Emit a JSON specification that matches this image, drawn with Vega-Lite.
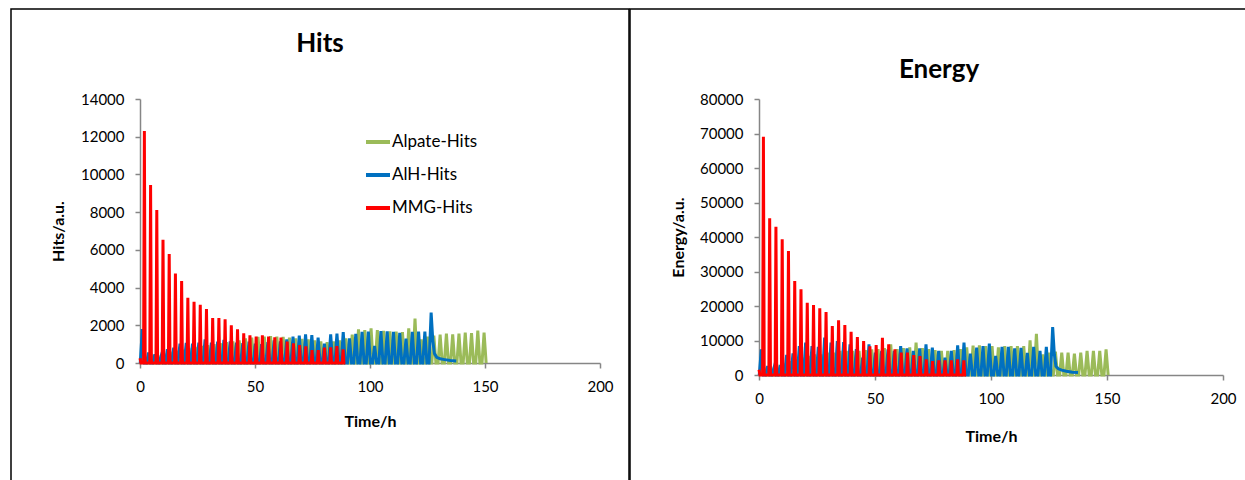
{
"$schema":"https://vega.github.io/schema/vega-lite/v6.json",
"padding":{"left":10,"top":8,"right":0,"bottom":0},
"spacing":-2,
"config":{"view":{"stroke":"#000000","strokeWidth":1.5},"font":"Lato",
"axis":{"grid":false,"domainColor":"#868686","domainWidth":1.5,"tickColor":"#868686","tickWidth":1.5,"tickSize":5,"labelFont":"Lato","labelFontSize":15,"labelColor":"#000000","titleFont":"Lato","titleFontSize":16,"titleFontWeight":"bold","titleColor":"#000000","labelFlush":false,"format":"d"},
"legend":{"labelFont":"Lato","labelFontSize":17,"labelColor":"#000000"}},
"datasets":{"d":[
{"s":"Alpate-Hits","t":1.28,"h":0,"e":0},{"s":"Alpate-Hits","t":2.18,"h":300,"e":2000},{"s":"Alpate-Hits","t":3.08,"h":0,"e":0},
{"s":"Alpate-Hits","t":4.01,"h":0,"e":0},{"s":"Alpate-Hits","t":4.91,"h":400,"e":2500},{"s":"Alpate-Hits","t":5.81,"h":0,"e":0},
{"s":"Alpate-Hits","t":6.74,"h":0,"e":0},{"s":"Alpate-Hits","t":7.64,"h":450,"e":3000},{"s":"Alpate-Hits","t":8.54,"h":0,"e":0},
{"s":"Alpate-Hits","t":9.47,"h":0,"e":0},{"s":"Alpate-Hits","t":10.37,"h":500,"e":3500},{"s":"Alpate-Hits","t":11.27,"h":0,"e":0},
{"s":"Alpate-Hits","t":12.2,"h":0,"e":0},{"s":"Alpate-Hits","t":13.1,"h":600,"e":4000},{"s":"Alpate-Hits","t":14.0,"h":0,"e":0},
{"s":"Alpate-Hits","t":14.93,"h":0,"e":0},{"s":"Alpate-Hits","t":15.83,"h":650,"e":4500},{"s":"Alpate-Hits","t":16.73,"h":0,"e":0},
{"s":"Alpate-Hits","t":17.66,"h":0,"e":0},{"s":"Alpate-Hits","t":18.56,"h":700,"e":5000},{"s":"Alpate-Hits","t":19.46,"h":0,"e":0},
{"s":"Alpate-Hits","t":20.39,"h":0,"e":0},{"s":"Alpate-Hits","t":21.29,"h":800,"e":5500},{"s":"Alpate-Hits","t":22.19,"h":0,"e":0},
{"s":"Alpate-Hits","t":23.12,"h":0,"e":0},{"s":"Alpate-Hits","t":24.02,"h":850,"e":6000},{"s":"Alpate-Hits","t":24.92,"h":0,"e":0},
{"s":"Alpate-Hits","t":25.85,"h":0,"e":0},{"s":"Alpate-Hits","t":26.75,"h":900,"e":6000},{"s":"Alpate-Hits","t":27.65,"h":0,"e":0},
{"s":"Alpate-Hits","t":28.58,"h":0,"e":0},{"s":"Alpate-Hits","t":29.48,"h":950,"e":6500},{"s":"Alpate-Hits","t":30.38,"h":0,"e":0},
{"s":"Alpate-Hits","t":31.31,"h":0,"e":0},{"s":"Alpate-Hits","t":32.21,"h":1000,"e":6500},{"s":"Alpate-Hits","t":33.11,"h":0,"e":0},
{"s":"Alpate-Hits","t":34.04,"h":0,"e":0},{"s":"Alpate-Hits","t":34.94,"h":1050,"e":7000},{"s":"Alpate-Hits","t":35.84,"h":0,"e":0},
{"s":"Alpate-Hits","t":36.77,"h":0,"e":0},{"s":"Alpate-Hits","t":37.67,"h":1100,"e":7000},{"s":"Alpate-Hits","t":38.57,"h":0,"e":0},
{"s":"Alpate-Hits","t":39.5,"h":0,"e":0},{"s":"Alpate-Hits","t":40.4,"h":1150,"e":7000},{"s":"Alpate-Hits","t":41.3,"h":0,"e":0},
{"s":"Alpate-Hits","t":42.23,"h":0,"e":0},{"s":"Alpate-Hits","t":43.13,"h":1200,"e":7000},{"s":"Alpate-Hits","t":44.03,"h":0,"e":0},
{"s":"Alpate-Hits","t":44.96,"h":0,"e":0},{"s":"Alpate-Hits","t":45.86,"h":1300,"e":7200},{"s":"Alpate-Hits","t":46.76,"h":0,"e":0},
{"s":"Alpate-Hits","t":47.69,"h":0,"e":0},{"s":"Alpate-Hits","t":48.59,"h":1350,"e":7400},{"s":"Alpate-Hits","t":49.49,"h":0,"e":0},
{"s":"Alpate-Hits","t":50.42,"h":0,"e":0},{"s":"Alpate-Hits","t":51.32,"h":1380,"e":7500},{"s":"Alpate-Hits","t":52.22,"h":0,"e":0},
{"s":"Alpate-Hits","t":53.15,"h":0,"e":0},{"s":"Alpate-Hits","t":54.05,"h":1400,"e":7800},{"s":"Alpate-Hits","t":54.95,"h":0,"e":0},
{"s":"Alpate-Hits","t":55.88,"h":0,"e":0},{"s":"Alpate-Hits","t":56.78,"h":1420,"e":8890},{"s":"Alpate-Hits","t":57.68,"h":0,"e":0},
{"s":"Alpate-Hits","t":58.61,"h":0,"e":0},{"s":"Alpate-Hits","t":59.51,"h":1400,"e":7500},{"s":"Alpate-Hits","t":60.41,"h":0,"e":0},
{"s":"Alpate-Hits","t":61.34,"h":0,"e":0},{"s":"Alpate-Hits","t":62.24,"h":1380,"e":7800},{"s":"Alpate-Hits","t":63.14,"h":0,"e":0},
{"s":"Alpate-Hits","t":64.07,"h":0,"e":0},{"s":"Alpate-Hits","t":64.97,"h":1350,"e":8000},{"s":"Alpate-Hits","t":65.87,"h":0,"e":0},
{"s":"Alpate-Hits","t":66.8,"h":0,"e":0},{"s":"Alpate-Hits","t":67.7,"h":1300,"e":9370},{"s":"Alpate-Hits","t":68.6,"h":0,"e":0},
{"s":"Alpate-Hits","t":69.53,"h":0,"e":0},{"s":"Alpate-Hits","t":70.43,"h":1280,"e":7800},{"s":"Alpate-Hits","t":71.33,"h":0,"e":0},
{"s":"Alpate-Hits","t":72.26,"h":0,"e":0},{"s":"Alpate-Hits","t":73.16,"h":1250,"e":7500},{"s":"Alpate-Hits","t":74.06,"h":0,"e":0},
{"s":"Alpate-Hits","t":74.99,"h":0,"e":0},{"s":"Alpate-Hits","t":75.89,"h":1200,"e":7200},{"s":"Alpate-Hits","t":76.79,"h":0,"e":0},
{"s":"Alpate-Hits","t":77.72,"h":0,"e":0},{"s":"Alpate-Hits","t":78.62,"h":1150,"e":7000},{"s":"Alpate-Hits","t":79.52,"h":0,"e":0},
{"s":"Alpate-Hits","t":80.45,"h":0,"e":0},{"s":"Alpate-Hits","t":81.35,"h":1100,"e":7000},{"s":"Alpate-Hits","t":82.25,"h":0,"e":0},
{"s":"Alpate-Hits","t":83.18,"h":0,"e":0},{"s":"Alpate-Hits","t":84.08,"h":1150,"e":7200},{"s":"Alpate-Hits","t":84.98,"h":0,"e":0},
{"s":"Alpate-Hits","t":85.91,"h":0,"e":0},{"s":"Alpate-Hits","t":86.81,"h":1200,"e":7500},{"s":"Alpate-Hits","t":87.71,"h":0,"e":0},
{"s":"Alpate-Hits","t":88.64,"h":0,"e":0},{"s":"Alpate-Hits","t":89.54,"h":1300,"e":8000},{"s":"Alpate-Hits","t":90.44,"h":0,"e":0},
{"s":"Alpate-Hits","t":91.37,"h":0,"e":0},{"s":"Alpate-Hits","t":92.27,"h":1500,"e":8500},{"s":"Alpate-Hits","t":93.17,"h":0,"e":0},
{"s":"Alpate-Hits","t":94.1,"h":0,"e":0},{"s":"Alpate-Hits","t":95.0,"h":1785,"e":8600},{"s":"Alpate-Hits","t":95.9,"h":0,"e":0},
{"s":"Alpate-Hits","t":96.83,"h":0,"e":0},{"s":"Alpate-Hits","t":97.73,"h":1750,"e":8400},{"s":"Alpate-Hits","t":98.63,"h":0,"e":0},
{"s":"Alpate-Hits","t":99.56,"h":0,"e":0},{"s":"Alpate-Hits","t":100.46,"h":1838,"e":8400},{"s":"Alpate-Hits","t":101.36,"h":0,"e":0},
{"s":"Alpate-Hits","t":102.29,"h":0,"e":0},{"s":"Alpate-Hits","t":103.19,"h":1750,"e":8000},{"s":"Alpate-Hits","t":104.09,"h":0,"e":0},
{"s":"Alpate-Hits","t":105.02,"h":0,"e":0},{"s":"Alpate-Hits","t":105.92,"h":1700,"e":8400},{"s":"Alpate-Hits","t":106.82,"h":0,"e":0},
{"s":"Alpate-Hits","t":107.75,"h":0,"e":0},{"s":"Alpate-Hits","t":108.65,"h":1680,"e":8400},{"s":"Alpate-Hits","t":109.55,"h":0,"e":0},
{"s":"Alpate-Hits","t":110.48,"h":0,"e":0},{"s":"Alpate-Hits","t":111.38,"h":1660,"e":8400},{"s":"Alpate-Hits","t":112.28,"h":0,"e":0},
{"s":"Alpate-Hits","t":113.21,"h":0,"e":0},{"s":"Alpate-Hits","t":114.11,"h":1644,"e":8400},{"s":"Alpate-Hits","t":115.01,"h":0,"e":0},
{"s":"Alpate-Hits","t":115.94,"h":0,"e":0},{"s":"Alpate-Hits","t":116.84,"h":1838,"e":10060},{"s":"Alpate-Hits","t":117.74,"h":0,"e":0},
{"s":"Alpate-Hits","t":118.67,"h":0,"e":0},{"s":"Alpate-Hits","t":119.57,"h":2350,"e":11970},{"s":"Alpate-Hits","t":120.47,"h":0,"e":0},
{"s":"Alpate-Hits","t":121.4,"h":0,"e":0},{"s":"Alpate-Hits","t":122.3,"h":1255,"e":6000},{"s":"Alpate-Hits","t":123.2,"h":0,"e":0},
{"s":"Alpate-Hits","t":124.13,"h":0,"e":0},{"s":"Alpate-Hits","t":125.03,"h":1400,"e":6500},{"s":"Alpate-Hits","t":125.93,"h":0,"e":0},
{"s":"Alpate-Hits","t":126.86,"h":0,"e":0},{"s":"Alpate-Hits","t":127.76,"h":1450,"e":6800},{"s":"Alpate-Hits","t":128.66,"h":0,"e":0},
{"s":"Alpate-Hits","t":129.59,"h":0,"e":0},{"s":"Alpate-Hits","t":130.49,"h":1500,"e":6470},{"s":"Alpate-Hits","t":131.39,"h":0,"e":0},
{"s":"Alpate-Hits","t":132.32,"h":0,"e":0},{"s":"Alpate-Hits","t":133.22,"h":1555,"e":6470},{"s":"Alpate-Hits","t":134.12,"h":0,"e":0},
{"s":"Alpate-Hits","t":135.05,"h":0,"e":0},{"s":"Alpate-Hits","t":135.95,"h":1520,"e":6180},{"s":"Alpate-Hits","t":136.85,"h":0,"e":0},
{"s":"Alpate-Hits","t":137.78,"h":0,"e":0},{"s":"Alpate-Hits","t":138.68,"h":1555,"e":6470},{"s":"Alpate-Hits","t":139.58,"h":0,"e":0},
{"s":"Alpate-Hits","t":140.51,"h":0,"e":0},{"s":"Alpate-Hits","t":141.41,"h":1608,"e":6960},{"s":"Alpate-Hits","t":142.31,"h":0,"e":0},
{"s":"Alpate-Hits","t":143.24,"h":0,"e":0},{"s":"Alpate-Hits","t":144.14,"h":1580,"e":6960},{"s":"Alpate-Hits","t":145.04,"h":0,"e":0},
{"s":"Alpate-Hits","t":145.97,"h":0,"e":0},{"s":"Alpate-Hits","t":146.87,"h":1715,"e":6960},{"s":"Alpate-Hits","t":147.77,"h":0,"e":0},
{"s":"Alpate-Hits","t":148.7,"h":0,"e":0},{"s":"Alpate-Hits","t":149.6,"h":1608,"e":7440},{"s":"Alpate-Hits","t":150.5,"h":0,"e":0},
{"s":"AlH-Hits","t":0.1,"h":0,"e":0},{"s":"AlH-Hits","t":1.0,"h":1800,"e":7440},{"s":"AlH-Hits","t":1.9,"h":0,"e":0},
{"s":"AlH-Hits","t":2.83,"h":0,"e":0},{"s":"AlH-Hits","t":3.73,"h":550,"e":2600},{"s":"AlH-Hits","t":4.63,"h":0,"e":0},
{"s":"AlH-Hits","t":5.56,"h":0,"e":0},{"s":"AlH-Hits","t":6.46,"h":460,"e":2120},{"s":"AlH-Hits","t":7.36,"h":0,"e":0},
{"s":"AlH-Hits","t":8.29,"h":0,"e":0},{"s":"AlH-Hits","t":9.19,"h":370,"e":2900},{"s":"AlH-Hits","t":10.09,"h":0,"e":0},
{"s":"AlH-Hits","t":11.02,"h":0,"e":0},{"s":"AlH-Hits","t":11.92,"h":725,"e":5800},{"s":"AlH-Hits","t":12.82,"h":0,"e":0},
{"s":"AlH-Hits","t":13.75,"h":0,"e":0},{"s":"AlH-Hits","t":14.65,"h":813,"e":6280},{"s":"AlH-Hits","t":15.55,"h":0,"e":0},
{"s":"AlH-Hits","t":16.48,"h":0,"e":0},{"s":"AlH-Hits","t":17.38,"h":1025,"e":8400},{"s":"AlH-Hits","t":18.28,"h":0,"e":0},
{"s":"AlH-Hits","t":19.21,"h":0,"e":0},{"s":"AlH-Hits","t":20.11,"h":1060,"e":9370},{"s":"AlH-Hits","t":21.01,"h":0,"e":0},
{"s":"AlH-Hits","t":21.94,"h":0,"e":0},{"s":"AlH-Hits","t":22.84,"h":1025,"e":8400},{"s":"AlH-Hits","t":23.74,"h":0,"e":0},
{"s":"AlH-Hits","t":24.67,"h":0,"e":0},{"s":"AlH-Hits","t":25.57,"h":1078,"e":8120},{"s":"AlH-Hits","t":26.47,"h":0,"e":0},
{"s":"AlH-Hits","t":27.4,"h":0,"e":0},{"s":"AlH-Hits","t":28.3,"h":1255,"e":10820},{"s":"AlH-Hits","t":29.2,"h":0,"e":0},
{"s":"AlH-Hits","t":30.13,"h":0,"e":0},{"s":"AlH-Hits","t":31.03,"h":1078,"e":9370},{"s":"AlH-Hits","t":31.93,"h":0,"e":0},
{"s":"AlH-Hits","t":32.86,"h":0,"e":0},{"s":"AlH-Hits","t":33.76,"h":1131,"e":9855},{"s":"AlH-Hits","t":34.66,"h":0,"e":0},
{"s":"AlH-Hits","t":35.59,"h":0,"e":0},{"s":"AlH-Hits","t":36.49,"h":1220,"e":9560},{"s":"AlH-Hits","t":37.39,"h":0,"e":0},
{"s":"AlH-Hits","t":38.32,"h":0,"e":0},{"s":"AlH-Hits","t":39.22,"h":1150,"e":8890},{"s":"AlH-Hits","t":40.12,"h":0,"e":0},
{"s":"AlH-Hits","t":41.05,"h":0,"e":0},{"s":"AlH-Hits","t":41.95,"h":1078,"e":7500},{"s":"AlH-Hits","t":42.85,"h":0,"e":0},
{"s":"AlH-Hits","t":43.78,"h":0,"e":0},{"s":"AlH-Hits","t":44.68,"h":1050,"e":5020},{"s":"AlH-Hits","t":45.58,"h":0,"e":0},
{"s":"AlH-Hits","t":46.51,"h":0,"e":0},{"s":"AlH-Hits","t":47.41,"h":1131,"e":8890},{"s":"AlH-Hits","t":48.31,"h":0,"e":0},
{"s":"AlH-Hits","t":49.24,"h":0,"e":0},{"s":"AlH-Hits","t":50.14,"h":1025,"e":6470},{"s":"AlH-Hits","t":51.04,"h":0,"e":0},
{"s":"AlH-Hits","t":51.97,"h":0,"e":0},{"s":"AlH-Hits","t":52.87,"h":1000,"e":6960},{"s":"AlH-Hits","t":53.77,"h":0,"e":0},
{"s":"AlH-Hits","t":54.7,"h":0,"e":0},{"s":"AlH-Hits","t":55.6,"h":1100,"e":7440},{"s":"AlH-Hits","t":56.5,"h":0,"e":0},
{"s":"AlH-Hits","t":57.43,"h":0,"e":0},{"s":"AlH-Hits","t":58.33,"h":1200,"e":7000},{"s":"AlH-Hits","t":59.23,"h":0,"e":0},
{"s":"AlH-Hits","t":60.16,"h":0,"e":0},{"s":"AlH-Hits","t":61.06,"h":1150,"e":8400},{"s":"AlH-Hits","t":61.96,"h":0,"e":0},
{"s":"AlH-Hits","t":62.89,"h":0,"e":0},{"s":"AlH-Hits","t":63.79,"h":1255,"e":7730},{"s":"AlH-Hits","t":64.69,"h":0,"e":0},
{"s":"AlH-Hits","t":65.62,"h":0,"e":0},{"s":"AlH-Hits","t":66.52,"h":1397,"e":6960},{"s":"AlH-Hits","t":67.42,"h":0,"e":0},
{"s":"AlH-Hits","t":68.35,"h":0,"e":0},{"s":"AlH-Hits","t":69.25,"h":1450,"e":7730},{"s":"AlH-Hits","t":70.15,"h":0,"e":0},
{"s":"AlH-Hits","t":71.08,"h":0,"e":0},{"s":"AlH-Hits","t":71.98,"h":1520,"e":8890},{"s":"AlH-Hits","t":72.88,"h":0,"e":0},
{"s":"AlH-Hits","t":73.81,"h":0,"e":0},{"s":"AlH-Hits","t":74.71,"h":1480,"e":7920},{"s":"AlH-Hits","t":75.61,"h":0,"e":0},
{"s":"AlH-Hits","t":76.54,"h":0,"e":0},{"s":"AlH-Hits","t":77.44,"h":1344,"e":6960},{"s":"AlH-Hits","t":78.34,"h":0,"e":0},
{"s":"AlH-Hits","t":79.27,"h":0,"e":0},{"s":"AlH-Hits","t":80.17,"h":1025,"e":5020},{"s":"AlH-Hits","t":81.07,"h":0,"e":0},
{"s":"AlH-Hits","t":82.0,"h":0,"e":0},{"s":"AlH-Hits","t":82.9,"h":1520,"e":6960},{"s":"AlH-Hits","t":83.8,"h":0,"e":0},
{"s":"AlH-Hits","t":84.73,"h":0,"e":0},{"s":"AlH-Hits","t":85.63,"h":1555,"e":8600},{"s":"AlH-Hits","t":86.53,"h":0,"e":0},
{"s":"AlH-Hits","t":87.46,"h":0,"e":0},{"s":"AlH-Hits","t":88.36,"h":1644,"e":9370},{"s":"AlH-Hits","t":89.26,"h":0,"e":0},
{"s":"AlH-Hits","t":90.19,"h":0,"e":0},{"s":"AlH-Hits","t":91.09,"h":1308,"e":6180},{"s":"AlH-Hits","t":91.99,"h":0,"e":0},
{"s":"AlH-Hits","t":92.92,"h":0,"e":0},{"s":"AlH-Hits","t":93.82,"h":1550,"e":7920},{"s":"AlH-Hits","t":94.72,"h":0,"e":0},
{"s":"AlH-Hits","t":95.65,"h":0,"e":0},{"s":"AlH-Hits","t":96.55,"h":1650,"e":8400},{"s":"AlH-Hits","t":97.45,"h":0,"e":0},
{"s":"AlH-Hits","t":98.38,"h":0,"e":0},{"s":"AlH-Hits","t":99.28,"h":1660,"e":9080},{"s":"AlH-Hits","t":100.18,"h":0,"e":0},
{"s":"AlH-Hits","t":101.11,"h":0,"e":0},{"s":"AlH-Hits","t":102.01,"h":900,"e":5500},{"s":"AlH-Hits","t":102.91,"h":0,"e":0},
{"s":"AlH-Hits","t":103.84,"h":0,"e":0},{"s":"AlH-Hits","t":104.74,"h":1697,"e":8120},{"s":"AlH-Hits","t":105.64,"h":0,"e":0},
{"s":"AlH-Hits","t":106.57,"h":0,"e":0},{"s":"AlH-Hits","t":107.47,"h":1680,"e":8120},{"s":"AlH-Hits","t":108.37,"h":0,"e":0},
{"s":"AlH-Hits","t":109.3,"h":0,"e":0},{"s":"AlH-Hits","t":110.2,"h":1650,"e":7730},{"s":"AlH-Hits","t":111.1,"h":0,"e":0},
{"s":"AlH-Hits","t":112.03,"h":0,"e":0},{"s":"AlH-Hits","t":112.93,"h":1600,"e":7900},{"s":"AlH-Hits","t":113.83,"h":0,"e":0},
{"s":"AlH-Hits","t":114.76,"h":0,"e":0},{"s":"AlH-Hits","t":115.66,"h":1290,"e":6380},{"s":"AlH-Hits","t":116.56,"h":0,"e":0},
{"s":"AlH-Hits","t":117.49,"h":0,"e":0},{"s":"AlH-Hits","t":118.39,"h":1650,"e":8120},{"s":"AlH-Hits","t":119.29,"h":0,"e":0},
{"s":"AlH-Hits","t":120.22,"h":0,"e":0},{"s":"AlH-Hits","t":121.12,"h":1660,"e":6960},{"s":"AlH-Hits","t":122.02,"h":0,"e":0},
{"s":"AlH-Hits","t":122.95,"h":0,"e":0},{"s":"AlH-Hits","t":123.85,"h":1660,"e":8120},{"s":"AlH-Hits","t":124.75,"h":0,"e":0},
{"s":"AlH-Hits","t":125.68,"h":0,"e":0},{"s":"AlH-Hits","t":126.58,"h":2670,"e":13910},
{"s":"AlH-Hits","t":127.3,"h":1200,"e":6000},{"s":"AlH-Hits","t":128.0,"h":500,"e":2500},
{"s":"AlH-Hits","t":129.0,"h":300,"e":1800},{"s":"AlH-Hits","t":130.5,"h":220,"e":1400},
{"s":"AlH-Hits","t":132.5,"h":180,"e":1100},{"s":"AlH-Hits","t":135.0,"h":130,"e":800},
{"s":"AlH-Hits","t":137.5,"h":110,"e":700},
{"s":"MMG-Hits","t":0,"h":250,"e":1500},{"s":"MMG-Hits","t":0.4,"h":0,"e":0},
{"s":"MMG-Hits","t":1.55,"h":0,"e":0},{"s":"MMG-Hits","t":1.9,"h":12300,"e":69080},{"s":"MMG-Hits","t":2.25,"h":0,"e":0},
{"s":"MMG-Hits","t":4.25,"h":0,"e":0},{"s":"MMG-Hits","t":4.6,"h":9440,"e":45420},{"s":"MMG-Hits","t":4.95,"h":0,"e":0},
{"s":"MMG-Hits","t":6.95,"h":0,"e":0},{"s":"MMG-Hits","t":7.3,"h":8110,"e":43000},{"s":"MMG-Hits","t":7.65,"h":0,"e":0},
{"s":"MMG-Hits","t":9.65,"h":0,"e":0},{"s":"MMG-Hits","t":10.0,"h":6540,"e":39330},{"s":"MMG-Hits","t":10.35,"h":0,"e":0},
{"s":"MMG-Hits","t":12.35,"h":0,"e":0},{"s":"MMG-Hits","t":12.7,"h":5780,"e":35940},{"s":"MMG-Hits","t":13.05,"h":0,"e":0},
{"s":"MMG-Hits","t":15.05,"h":0,"e":0},{"s":"MMG-Hits","t":15.4,"h":4740,"e":27250},{"s":"MMG-Hits","t":15.75,"h":0,"e":0},
{"s":"MMG-Hits","t":17.75,"h":0,"e":0},{"s":"MMG-Hits","t":18.1,"h":4350,"e":24830},{"s":"MMG-Hits","t":18.45,"h":0,"e":0},
{"s":"MMG-Hits","t":20.45,"h":0,"e":0},{"s":"MMG-Hits","t":20.8,"h":3465,"e":20970},{"s":"MMG-Hits","t":21.15,"h":0,"e":0},
{"s":"MMG-Hits","t":23.15,"h":0,"e":0},{"s":"MMG-Hits","t":23.5,"h":3250,"e":20290},{"s":"MMG-Hits","t":23.85,"h":0,"e":0},
{"s":"MMG-Hits","t":25.85,"h":0,"e":0},{"s":"MMG-Hits","t":26.2,"h":3090,"e":19320},{"s":"MMG-Hits","t":26.55,"h":0,"e":0},
{"s":"MMG-Hits","t":28.55,"h":0,"e":0},{"s":"MMG-Hits","t":28.9,"h":2860,"e":18260},{"s":"MMG-Hits","t":29.25,"h":0,"e":0},
{"s":"MMG-Hits","t":31.25,"h":0,"e":0},{"s":"MMG-Hits","t":31.6,"h":2390,"e":14200},{"s":"MMG-Hits","t":31.95,"h":0,"e":0},
{"s":"MMG-Hits","t":33.95,"h":0,"e":0},{"s":"MMG-Hits","t":34.3,"h":2390,"e":15850},{"s":"MMG-Hits","t":34.65,"h":0,"e":0},
{"s":"MMG-Hits","t":36.65,"h":0,"e":0},{"s":"MMG-Hits","t":37.0,"h":2320,"e":14490},{"s":"MMG-Hits","t":37.35,"h":0,"e":0},
{"s":"MMG-Hits","t":39.35,"h":0,"e":0},{"s":"MMG-Hits","t":39.7,"h":2000,"e":12560},{"s":"MMG-Hits","t":40.05,"h":0,"e":0},
{"s":"MMG-Hits","t":42.05,"h":0,"e":0},{"s":"MMG-Hits","t":42.4,"h":1790,"e":11010},{"s":"MMG-Hits","t":42.75,"h":0,"e":0},
{"s":"MMG-Hits","t":44.75,"h":0,"e":0},{"s":"MMG-Hits","t":45.1,"h":1574,"e":9855},{"s":"MMG-Hits","t":45.45,"h":0,"e":0},
{"s":"MMG-Hits","t":47.45,"h":0,"e":0},{"s":"MMG-Hits","t":47.8,"h":1467,"e":8300},{"s":"MMG-Hits","t":48.15,"h":0,"e":0},
{"s":"MMG-Hits","t":50.15,"h":0,"e":0},{"s":"MMG-Hits","t":50.5,"h":1397,"e":8700},{"s":"MMG-Hits","t":50.85,"h":0,"e":0},
{"s":"MMG-Hits","t":52.85,"h":0,"e":0},{"s":"MMG-Hits","t":53.2,"h":1467,"e":10820},{"s":"MMG-Hits","t":53.55,"h":0,"e":0},
{"s":"MMG-Hits","t":55.55,"h":0,"e":0},{"s":"MMG-Hits","t":55.9,"h":1397,"e":8890},{"s":"MMG-Hits","t":56.25,"h":0,"e":0},
{"s":"MMG-Hits","t":58.25,"h":0,"e":0},{"s":"MMG-Hits","t":58.6,"h":1361,"e":7440},{"s":"MMG-Hits","t":58.95,"h":0,"e":0},
{"s":"MMG-Hits","t":60.95,"h":0,"e":0},{"s":"MMG-Hits","t":61.3,"h":1344,"e":6470},{"s":"MMG-Hits","t":61.65,"h":0,"e":0},
{"s":"MMG-Hits","t":63.65,"h":0,"e":0},{"s":"MMG-Hits","t":64.0,"h":1131,"e":6470},{"s":"MMG-Hits","t":64.35,"h":0,"e":0},
{"s":"MMG-Hits","t":66.35,"h":0,"e":0},{"s":"MMG-Hits","t":66.7,"h":1043,"e":5800},{"s":"MMG-Hits","t":67.05,"h":0,"e":0},
{"s":"MMG-Hits","t":69.05,"h":0,"e":0},{"s":"MMG-Hits","t":69.4,"h":950,"e":5510},{"s":"MMG-Hits","t":69.75,"h":0,"e":0},
{"s":"MMG-Hits","t":71.75,"h":0,"e":0},{"s":"MMG-Hits","t":72.1,"h":880,"e":4540},{"s":"MMG-Hits","t":72.45,"h":0,"e":0},
{"s":"MMG-Hits","t":74.45,"h":0,"e":0},{"s":"MMG-Hits","t":74.8,"h":690,"e":4060},{"s":"MMG-Hits","t":75.15,"h":0,"e":0},
{"s":"MMG-Hits","t":77.15,"h":0,"e":0},{"s":"MMG-Hits","t":77.5,"h":690,"e":4250},{"s":"MMG-Hits","t":77.85,"h":0,"e":0},
{"s":"MMG-Hits","t":79.85,"h":0,"e":0},{"s":"MMG-Hits","t":80.2,"h":813,"e":4250},{"s":"MMG-Hits","t":80.55,"h":0,"e":0},
{"s":"MMG-Hits","t":82.55,"h":0,"e":0},{"s":"MMG-Hits","t":82.9,"h":830,"e":4250},{"s":"MMG-Hits","t":83.25,"h":0,"e":0},
{"s":"MMG-Hits","t":85.25,"h":0,"e":0},{"s":"MMG-Hits","t":85.6,"h":901,"e":4540},{"s":"MMG-Hits","t":85.95,"h":0,"e":0},
{"s":"MMG-Hits","t":87.95,"h":0,"e":0},{"s":"MMG-Hits","t":88.3,"h":725,"e":4250},{"s":"MMG-Hits","t":88.65,"h":0,"e":0},
{"s":"MMG-Hits","t":89.3,"h":0,"e":0}
]},
"hconcat":[
{"width":618,"height":472,
"title":{"text":"Hits","fontSize":26,"fontWeight":"bold","font":"Lato","anchor":"middle","offset":-48,"color":"#000000"},
"data":{"name":"d"},
"encoding":{
"x":{"field":"t","type":"quantitative","scale":{"domain":[0,200],"range":[129,589],"nice":false,"zero":false},
"axis":{"values":[0,50,100,150,200],"title":"Time/h","offset":-118,"labelPadding":11,"titlePadding":19}},
"y":{"field":"h","type":"quantitative","scale":{"domain":[0,14000],"range":[354,90],"nice":false},
"axis":{"values":[0,2000,4000,6000,8000,10000,12000,14000],"title":"Hits/a.u.","offset":-129,"labelPadding":11,"titlePadding":14}},
"color":{"field":"s","type":"nominal","scale":{"domain":["Alpate-Hits","AlH-Hits","MMG-Hits"],"range":["#9BBB59","#0070C0","#FF0000"]},
"legend":{"title":null,"orient":"none","legendX":353,"legendY":119,"symbolType":"stroke","symbolSize":576,"symbolStrokeWidth":4,"rowPadding":11,"labelOffset":0}}},
"layer":[
{"transform":[{"filter":"datum.s==='Alpate-Hits'"}],"mark":{"type":"line","strokeWidth":3}},
{"transform":[{"filter":"datum.s==='AlH-Hits'"}],"mark":{"type":"line","strokeWidth":3}},
{"transform":[{"filter":"datum.s==='MMG-Hits'"}],"mark":{"type":"line","strokeWidth":3}}
]},
{"width":618,"height":472,
"title":{"text":"Energy","fontSize":26,"fontWeight":"bold","font":"Lato","anchor":"middle","offset":-74,"color":"#000000"},
"data":{"name":"d"},
"encoding":{
"x":{"field":"t","type":"quantitative","scale":{"domain":[0,200],"range":[129,593],"nice":false,"zero":false},
"axis":{"values":[0,50,100,150,200],"title":"Time/h","offset":-106,"labelPadding":11,"titlePadding":22}},
"y":{"field":"e","type":"quantitative","scale":{"domain":[0,80000],"range":[366,90],"nice":false},
"axis":{"values":[0,10000,20000,30000,40000,50000,60000,70000,80000],"title":"Energy/a.u.","offset":-129,"labelPadding":11,"titlePadding":13}},
"color":{"field":"s","type":"nominal","scale":{"domain":["Alpate-Hits","AlH-Hits","MMG-Hits"],"range":["#9BBB59","#0070C0","#FF0000"]},"legend":null}},
"layer":[
{"transform":[{"filter":"datum.s==='Alpate-Hits'"}],"mark":{"type":"line","strokeWidth":3}},
{"transform":[{"filter":"datum.s==='AlH-Hits'"}],"mark":{"type":"line","strokeWidth":3}},
{"transform":[{"filter":"datum.s==='MMG-Hits'"}],"mark":{"type":"line","strokeWidth":3}}
]}
]
}
